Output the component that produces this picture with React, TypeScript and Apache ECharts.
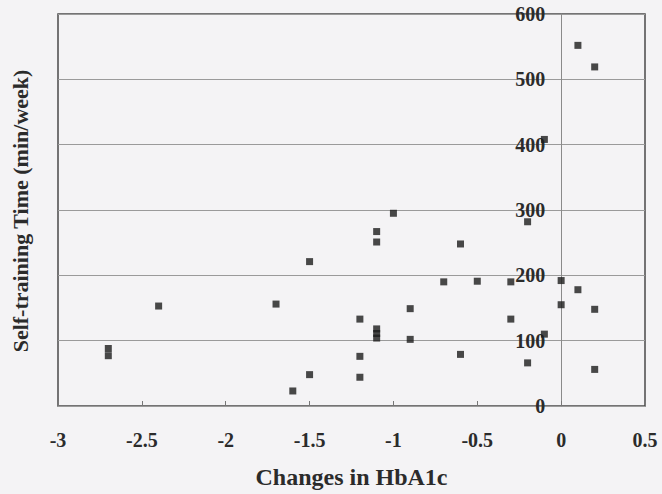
import React, { useEffect, useRef } from "react";
import * as echarts from "echarts";

const hba1cChange: number[] = [
  -2.7, -2.7, -2.4, -1.7, -1.6, -1.5, -1.5, -1.2, -1.2, -1.2, -1.1, -1.1, -1.1, -1.1, -1.1,
  -1.0, -0.9, -0.9, -0.7, -0.6, -0.6, -0.5, -0.3, -0.3, -0.2, -0.2, -0.1, -0.1, 0, 0, 0.1,
  0.1, 0.2, 0.2, 0.2,
];
const trainingTime: number[] = [
  88, 77, 153, 156, 23, 221, 48, 133, 76, 44, 267, 251, 118, 111, 104,
  295, 149, 102, 190, 248, 79, 191, 190, 133, 282, 66, 408, 110, 192, 155, 178,
  552, 519, 148, 56,
];
const xTitle = "Changes in HbA1c";
const yTitle = "Self-training Time (min/week)";

const FONT = "'Liberation Serif', 'Times New Roman', serif";
const TEXT = "#2b2b2b";

const GRID_LEFT = 58;
const GRID_RIGHT = 17;
const X_MIN = -3;
const X_MAX = 0.5;

export default function App() {
  const ref = useRef<HTMLDivElement>(null);
  useEffect(() => {
    if (!ref.current) return;
    const chart = echarts.init(ref.current, null, { renderer: "svg" });
    const points = hba1cChange.map((x, i) => [x, trainingTime[i]]);
    const plotW = 662 - GRID_LEFT - GRID_RIGHT;
    const zeroOffset = (plotW * (0 - X_MIN)) / (X_MAX - X_MIN);
    chart.setOption({
      animation: false,
      backgroundColor: "#f4f3f5",
      grid: {
        left: GRID_LEFT,
        right: GRID_RIGHT,
        top: 14,
        bottom: 87,
        show: true,
        borderColor: "#4a4a4a",
        borderWidth: 1.5,
        backgroundColor: "transparent",
      },
      xAxis: {
        type: "value",
        min: X_MIN,
        max: X_MAX,
        interval: 0.5,
        axisLine: { show: false },
        axisTick: { show: true, inside: true, length: 5, lineStyle: { color: "#777" } },
        splitLine: { show: false },
        axisLabel: {
          margin: 24,
          color: TEXT,
          fontFamily: FONT,
          fontWeight: "bold",
          fontSize: 20,
        },
        name: xTitle,
        nameLocation: "middle",
        nameGap: 59,
        nameTextStyle: {
          color: TEXT,
          fontFamily: FONT,
          fontWeight: "bold",
          fontSize: 24,
        },
      },
      yAxis: {
        type: "value",
        min: 0,
        max: 600,
        interval: 100,
        offset: -zeroOffset,
        axisLine: { show: true, onZero: false, lineStyle: { color: "#8a8a8a", width: 1 } },
        axisTick: { show: false },
        splitLine: { show: true, lineStyle: { color: "#9a9a9a", width: 1 } },
        axisLabel: {
          margin: 16,
          color: TEXT,
          fontFamily: FONT,
          fontWeight: "bold",
          fontSize: 20,
        },
      },
      graphic: [
        {
          type: "text",
          x: 20,
          y: 211,
          rotation: Math.PI / 2,
          style: {
            text: yTitle,
            fill: TEXT,
            font: `bold 22px ${FONT}`,
            textAlign: "center",
            textVerticalAlign: "middle",
          },
        },
      ],
      series: [
        {
          type: "scatter",
          symbol: "rect",
          symbolSize: 7,
          itemStyle: { color: "#1c1c1c" },
          data: points,
        },
      ],
    });
    return () => chart.dispose();
  }, []);
  return (
    <div
      ref={ref}
      style={{ position: "fixed", left: 0, top: 0, width: 662, height: 494 }}
    />
  );
}
